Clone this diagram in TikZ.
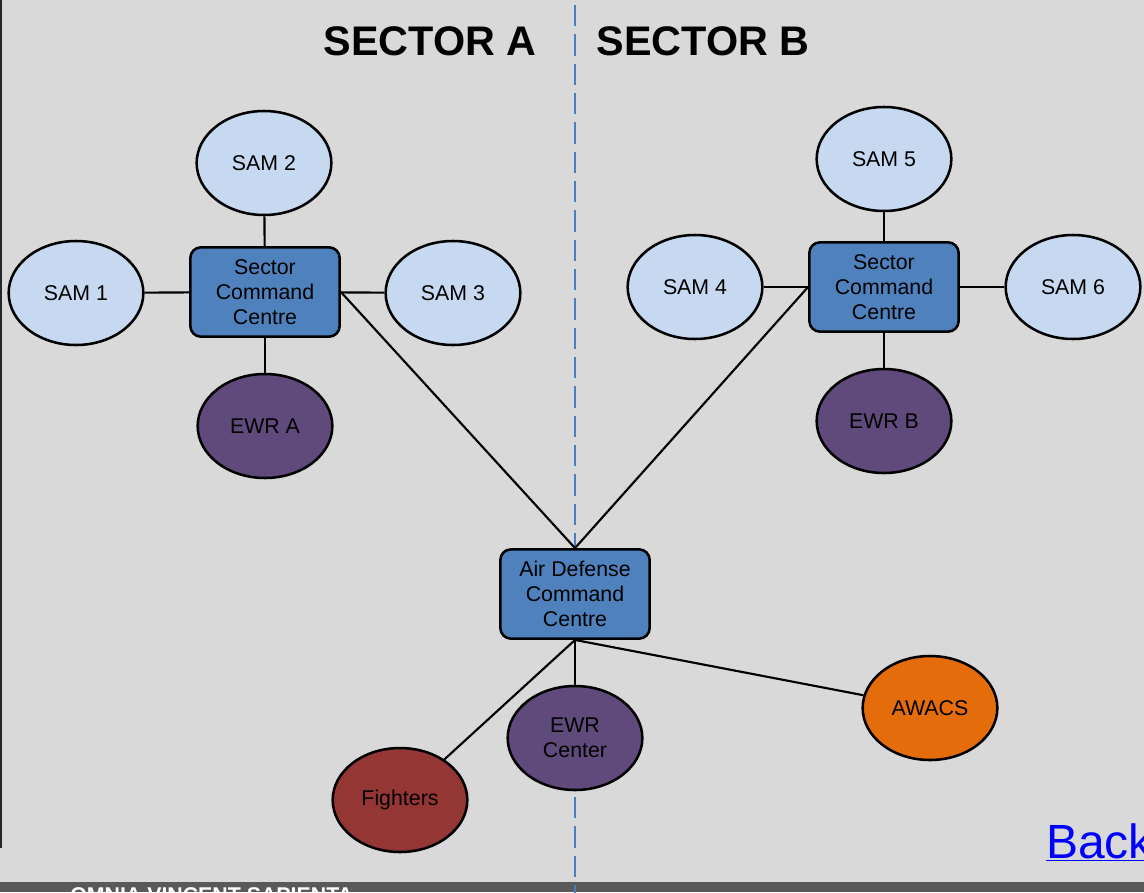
\documentclass[tikz,border=0pt]{standalone}
\usepackage{fontspec}
\setmainfont{Liberation Sans}
\usetikzlibrary{shapes.geometric}
\definecolor{bg}{HTML}{D9D9D9}
\definecolor{samfill}{HTML}{C6D9F1}
\definecolor{boxfill}{HTML}{4F81BD}
\definecolor{ewrfill}{HTML}{604A7B}
\definecolor{fightfill}{HTML}{943634}
\definecolor{awacsfill}{HTML}{E46C0A}
\definecolor{dashblue}{HTML}{4A7EBB}
\definecolor{band}{HTML}{595959}
\begin{document}
\begin{tikzpicture}[x=0.75pt,y=-0.75pt,
  ell/.style={ellipse,draw=black,line width=1.9pt,minimum width=101pt,minimum height=78pt,inner sep=0pt,align=center,font=\fontsize{16}{19}\selectfont},
  sam/.style={ell,fill=samfill},
  ewr/.style={ell,fill=ewrfill},
  cmdbox/.style={rectangle,rounded corners=8pt,draw=black,line width=1.9pt,fill=boxfill,minimum width=112pt,minimum height=67pt,inner sep=0pt,align=center,font=\fontsize{16}{19}\selectfont},
  link/.style={line width=1.6pt,black},
  heading/.style={font=\fontsize{31}{37}\selectfont\bfseries,inner sep=0pt}]
\useasboundingbox (0,0) rectangle (1144,892);
\clip (0,0) rectangle (1144,892);
\fill[bg] (0,0) rectangle (1144,892);
\fill[band] (0,882) rectangle (1144,892);
\node[anchor=base west,text=white,font=\fontsize{16}{19}\selectfont\bfseries,inner sep=0pt] (motto) at (70,902) {OMNIA VINCENT SAPIENTA};
\draw[line width=2pt,black!85] (1,0) -- (1,848);
\coordinate (dtop) at (575,5);
\coordinate (dbot) at (575,900);
\draw[dashblue,line width=1.9pt,dash pattern=on 16pt off 6pt] (dtop) -- (dbot);
\node[heading] (secA) at (430,41) {SECTOR A};
\node[heading] (secB) at (703,41) {SECTOR B};
% Sector A
\node[cmdbox] (sca) at (265,292) {Sector\\Command\\Centre};
\node[sam] (sam1) at (76,293) {SAM 1};
\node[sam] (sam2) at (264,163) {SAM 2};
\node[sam] (sam3) at (453,293) {SAM 3};
\node[ewr] (ewra) at (265,426) {EWR A};
% Sector B
\node[cmdbox] (scb) at (884,287) {Sector\\Command\\Centre};
\node[sam] (sam4) at (695,287) {SAM 4};
\node[sam] (sam5) at (884,159) {SAM 5};
\node[sam] (sam6) at (1073,287) {SAM 6};
\node[ewr] (ewrb) at (884,421) {EWR B};
% Air defense
\node[cmdbox] (adc) at (575,594) {Air Defense\\Command\\Centre};
\node[ewr] (ewrc) at (575,738) {EWR\\Center};
\node[ell,fill=fightfill] (fight) at (400,800) {Fighters};
\node[ell,fill=awacsfill] (awacs) at (930,708) {AWACS};
\node[anchor=base west,text=blue,font=\fontsize{36}{43}\selectfont,inner sep=0pt] (back) at (1046,858) {\underline{Back}};
% links
\draw[link] (sam1) -- (sca);
\draw[link] (sam2) -- (sca);
\draw[link] (sca) -- (sam3);
\draw[link] (sca) -- (ewra);
\draw[link] (sam4) -- (scb);
\draw[link] (sam5) -- (scb);
\draw[link] (scb) -- (sam6);
\draw[link] (scb) -- (ewrb);
\draw[link] (sca.east) -- (adc.north);
\draw[link] (scb.west) -- (adc.north);
\draw[link] (adc.south) -- (ewrc);
\draw[link] (adc.south) -- (fight);
\draw[link] (adc.south) -- (awacs);
\end{tikzpicture}
\end{document}
